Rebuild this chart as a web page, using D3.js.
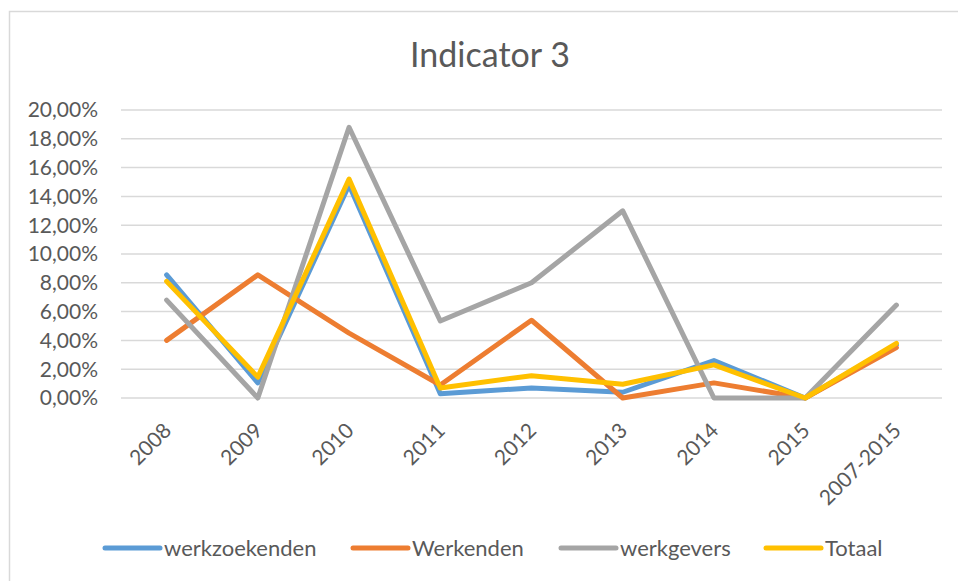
<!DOCTYPE html>
<html>
<head>
<meta charset="utf-8">
<script src="https://cdn.jsdelivr.net/npm/d3@7"></script>
<style>
  body { margin: 0; background: #fff; }
  text { font-family: Lato, "Open Sans", sans-serif; fill: #595959; }
</style>
</head>
<body>
<div id="chart"></div>
<script>
// Data (percent values)
const categories = ["2008", "2009", "2010", "2011", "2012", "2013", "2014", "2015", "2007-2015"];
const werkzoekenden = [8.55, 1.05, 14.8, 0.3, 0.7, 0.4, 2.6, 0, 3.7];
const werkenden = [4.0, 8.55, 4.5, 0.9, 5.4, 0, 1.05, 0, 3.5];
const werkgevers = [6.8, 0, 18.8, 5.35, 8.0, 13.0, 0, 0, 6.45];
const totaal = [8.1, 1.45, 15.2, 0.7, 1.55, 0.95, 2.3, 0, 3.8];
const yTicks = [0, 2, 4, 6, 8, 10, 12, 14, 16, 18, 20];

const series = [
    { name: "werkzoekenden", values: werkzoekenden, color: "#5B9BD5" },
    { name: "Werkenden", values: werkenden, color: "#ED7D31" },
    { name: "werkgevers", values: werkgevers, color: "#A5A5A5" },
    { name: "Totaal", values: totaal, color: "#FFC000" }
];

const width = 958, height = 581;
const margin = { top: 110, right: 16, bottom: 183, left: 121 };

const svg = d3.select("#chart").append("svg")
    .attr("width", width)
    .attr("height", height);

// chart area border
svg.append("rect")
    .attr("x", 9.5).attr("y", 11.5)
    .attr("width", width).attr("height", height)
    .attr("fill", "none")
    .attr("stroke", "#D9D9D9")
    .attr("stroke-width", 1.5);

const x = d3.scalePoint()
    .domain(categories)
    .range([margin.left, width - margin.right])
    .padding(0.5);

const y = d3.scaleLinear()
    .domain([0, 20])
    .range([height - margin.bottom, margin.top]);

// Title
svg.append("text")
    .attr("x", 490)
    .attr("y", 67)
    .attr("text-anchor", "middle")
    .attr("font-size", "34px")
    .text("Indicator 3");

// Gridlines
svg.append("g")
    .selectAll("line")
    .data(yTicks)
    .enter()
    .append("line")
    .attr("x1", margin.left)
    .attr("x2", width - margin.right)
    .attr("y1", d => y(d))
    .attr("y2", d => y(d))
    .attr("stroke", "#D9D9D9")
    .attr("stroke-width", 1.5);

// Y labels
const fmt = d => d.toFixed(2).replace(".", ",") + "%";
svg.append("g")
    .selectAll("text")
    .data(yTicks)
    .enter()
    .append("text")
    .attr("x", 98)
    .attr("y", d => y(d))
    .attr("dy", "0.35em")
    .attr("text-anchor", "end")
    .attr("font-size", "21px")
    .text(fmt);

// X labels (rotated)
svg.append("g")
    .selectAll("text")
    .data(categories)
    .enter()
    .append("text")
    .attr("text-anchor", "end")
    .attr("font-size", "21px")
    .attr("transform", d => `translate(${x(d) + 6},${432}) rotate(-45)`)
    .text(d => d);

// Lines
const line = d3.line()
    .x((d, i) => x(categories[i]))
    .y(d => y(d));

svg.append("g")
    .selectAll("path")
    .data(series)
    .enter()
    .append("path")
    .attr("d", d => line(d.values))
    .attr("fill", "none")
    .attr("stroke", d => d.color)
    .attr("stroke-width", 5)
    .attr("stroke-linejoin", "round")
    .attr("stroke-linecap", "round");

// Legend
const legendX = [105, 353, 561, 766];
const legend = svg.append("g")
    .selectAll("g")
    .data(series)
    .enter()
    .append("g")
    .attr("transform", (d, i) => `translate(${legendX[i]},548)`);

legend.append("line")
    .attr("x1", 0).attr("x2", 55)
    .attr("y1", 0).attr("y2", 0)
    .attr("stroke", d => d.color)
    .attr("stroke-width", 5)
    .attr("stroke-linecap", "round");

legend.append("text")
    .attr("x", 59)
    .attr("y", 0)
    .attr("dy", "0.36em")
    .attr("font-size", "22px")
    .text(d => d.name);
</script>
</body>
</html>
